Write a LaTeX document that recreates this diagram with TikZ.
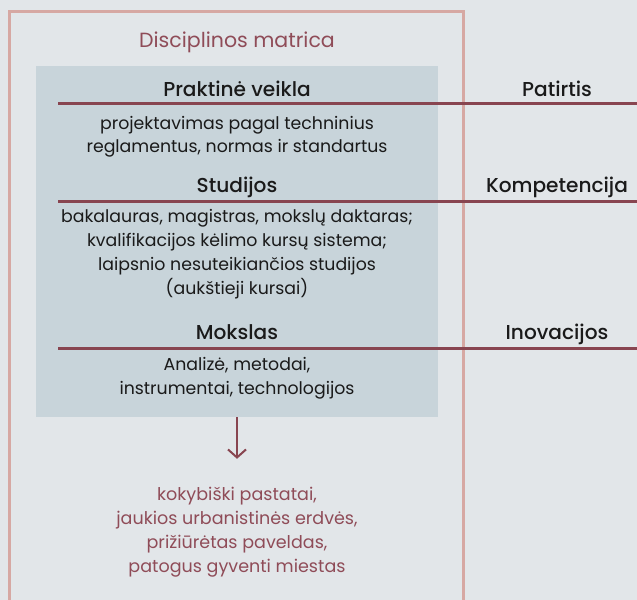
\documentclass[tikz,border=0pt]{standalone}
\usepackage{fontspec}
\setmainfont{Poppins}
\newfontfamily\headfont{Poppins}[UprightFont=* Medium]
\usetikzlibrary{arrows.meta}
\definecolor{bgc}{HTML}{E2E6E9}
\definecolor{boxc}{HTML}{C8D4DA}
\definecolor{pinkc}{HTML}{D6A8A3}
\definecolor{wine}{HTML}{884550}
\definecolor{winetxt}{HTML}{8F4C58}
\definecolor{ink}{HTML}{1A1A1A}
\tikzset{
  heading/.style={font=\headfont\fontsize{20.2}{24}\selectfont, text=ink, inner sep=0pt, anchor=base},
  body/.style={font=\fontsize{17.4}{24}\selectfont, text=ink, align=center, inner sep=0pt, anchor=north},
  bar/.style={draw=wine, line width=3bp},
}
\begin{document}
\begin{tikzpicture}[x=1bp,y=-1bp]
\fill[bgc] (0,0) rectangle (637,600);
\useasboundingbox (0,0) rectangle (637,600);
% outer frame
\draw[pinkc, line width=3.5bp] (9.5,603) -- (9.5,11.5) -- (463.5,11.5) -- (463.5,603);
\node[font=\fontsize{20.6}{24}\selectfont, text=winetxt, anchor=base, inner sep=0pt] (title) at (237,48) {Disciplinos matrica};
% inner box
\node[fill=boxc, minimum width=402bp, minimum height=351bp, inner sep=0pt, anchor=north west] (box) at (36,66) {};
% lines
\coordinate (l1a) at (58,104); \coordinate (l1b) at (637,104);
\coordinate (l2a) at (58,201); \coordinate (l2b) at (637,201);
\coordinate (l3a) at (58,348); \coordinate (l3b) at (637,348);
\draw[bar] (l1a) -- (l1b);
\draw[bar] (l2a) -- (l2b);
\draw[bar] (l3a) -- (l3b);
% headings
\node[heading] (h1) at (237,97) {Praktinė veikla};
\node[heading] (h2) at (237,192) {Studijos};
\node[heading] (h3) at (237,339) {Mokslas};
\node[heading] (r1) at (557,97) {Patirtis};
\node[heading] (r2) at (557,192) {Kompetencija};
\node[heading] (r3) at (557,339) {Inovacijos};
% bodies
\node[body, font=\fontsize{17.4}{23}\selectfont] (b1) at (237,116.5) {projektavimas pagal techninius\\reglamentus, normas ir standartus};
\node[body] (b2) at (237,209.5) {bakalauras, magistras, mokslų daktaras;\\kvalifikacijos kėlimo kursų sistema;\\laipsnio nesuteikiančios studijos\\(aukštieji kursai)};
\node[body] (b3) at (237,357.5) {Analizė, metodai,\\instrumentai, technologijos};
% arrow
\coordinate (arrS) at (237,417);
\node[inner sep=0pt, minimum size=0pt] (arrE) at (237,459) {};
\draw[wine, line width=2bp, -{Straight Barb[length=8bp,width=18bp,line width=2bp]}] (arrS) -- (arrE);
% result
\node[body, text=winetxt, font=\fontsize{17.6}{24.3}\selectfont] (res) at (237,486.5) {kokybiški pastatai,\\jaukios urbanistinės erdvės,\\prižiūrėtas paveldas,\\patogus gyventi miestas};
\end{tikzpicture}
\end{document}
